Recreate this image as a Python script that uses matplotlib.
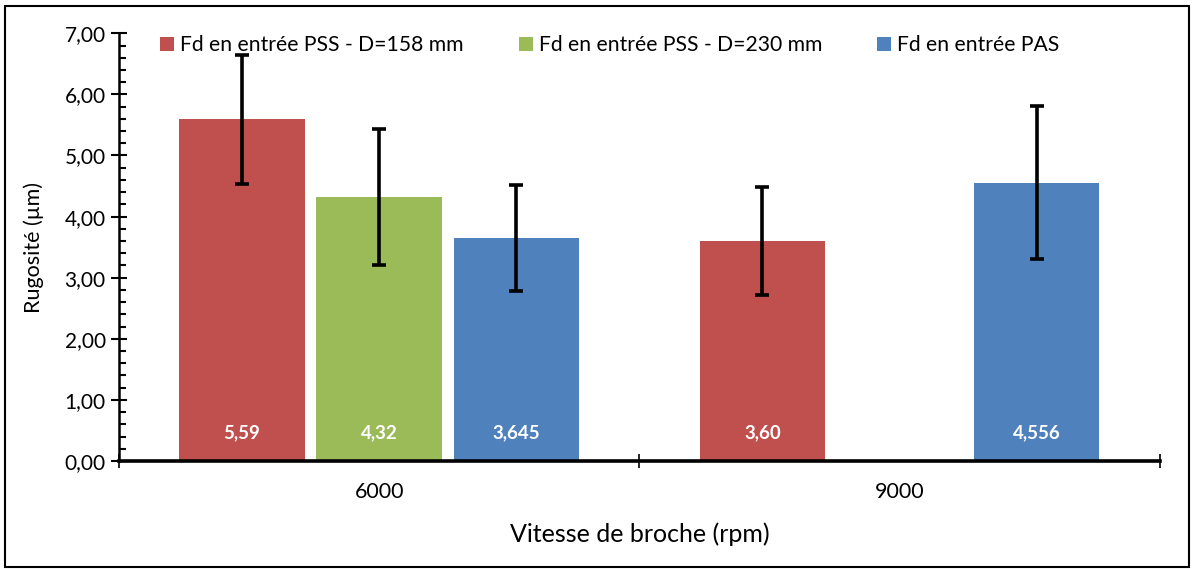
import matplotlib
matplotlib.use("Agg")
import matplotlib.pyplot as plt
import numpy as np
from matplotlib.patches import Rectangle

plt.rcParams['font.family'] = ['Lato', 'DejaVu Sans']

categories = ["6000", "9000"]
series_names = ["Fd en entrée PSS - D=158 mm", "Fd en entrée PSS - D=230 mm", "Fd en entrée PAS"]
values_pss158 = [5.59, 3.60]
values_pss230 = [4.32, np.nan]
values_pas = [3.645, 4.556]
errors_pss158 = [1.05, 0.88]
errors_pss230 = [1.115, np.nan]
errors_pas = [0.865, 1.25]
labels_pss158 = ["5,59", "3,60"]
labels_pss230 = ["4,32", ""]
labels_pas = ["3,645", "4,556"]
colors = ["#C0504D", "#9BBB59", "#4F81BD"]
y_ticks = [0, 1, 2, 3, 4, 5, 6, 7]
y_ticklabels = ["0,00", "1,00", "2,00", "3,00", "4,00", "5,00", "6,00", "7,00"]

fig = plt.figure(figsize=(11.92, 5.69), dpi=100)
ax = fig.add_axes([0.0998, 0.1898, 0.8732, 0.7517])

x = np.arange(len(categories))
offset = 0.2635
width = 0.241
all_vals = [values_pss158, values_pss230, values_pas]
all_errs = [errors_pss158, errors_pss230, errors_pas]
all_labels = [labels_pss158, labels_pss230, labels_pas]
for i, (vals, errs, labs, name, col) in enumerate(zip(all_vals, all_errs, all_labels, series_names, colors)):
    pos = x + (i - 1) * offset
    ax.bar(pos, vals, width, color=col, label=name, zorder=2)
    ax.errorbar(pos, vals, yerr=errs, fmt='none', ecolor='black', elinewidth=2.6,
                capsize=4.7, capthick=2.6, zorder=3)
    for p, v, t in zip(pos, vals, labs):
        if t and not np.isnan(v):
            ax.annotate(t, (p, 0), xytext=(0, 14), textcoords='offset points',
                        ha='center', va='bottom', color='white', fontweight='bold', fontsize=13.5)

ax.set_xlim(-0.5, 1.5)
ax.set_ylim(0, 7)
ax.set_yticks(y_ticks)
ax.set_yticklabels(y_ticklabels, fontsize=15)
ax.yaxis.set_minor_locator(matplotlib.ticker.MultipleLocator(0.2))
ax.tick_params(axis='y', which='major', direction='inout', length=11, width=1.5, pad=4)
ax.tick_params(axis='y', which='minor', direction='in', length=5, width=1.5)

ax.set_xticks([-0.5, 0.5, 1.5], minor=True)
ax.set_xticks(x)
ax.set_xticklabels(categories, fontsize=15.5)
ax.tick_params(axis='x', which='major', length=0, pad=15)
ax.tick_params(axis='x', which='minor', direction='inout', length=10, width=1.2)

for s in ['top', 'right']:
    ax.spines[s].set_visible(False)
ax.spines['left'].set_linewidth(1.8)
ax.spines['bottom'].set_linewidth(2.6)

ax.set_ylabel("Rugosité (µm)", fontsize=15.5, labelpad=15)
ax.set_xlabel("Vitesse de broche (rpm)", fontsize=18, labelpad=15)

leg = ax.legend(loc='upper center', bbox_to_anchor=(0.4717, 1.04), ncol=3, frameon=False,
                fontsize=15.2, handlelength=0.65, handleheight=0.65, handletextpad=0.3,
                columnspacing=2.6)

fig.patches.append(Rectangle((5/1192, 2/569), 1184/1192, 561/569, transform=fig.transFigure,
                             fill=False, edgecolor='black', linewidth=1.5))

fig.savefig("out.png", dpi=100)
